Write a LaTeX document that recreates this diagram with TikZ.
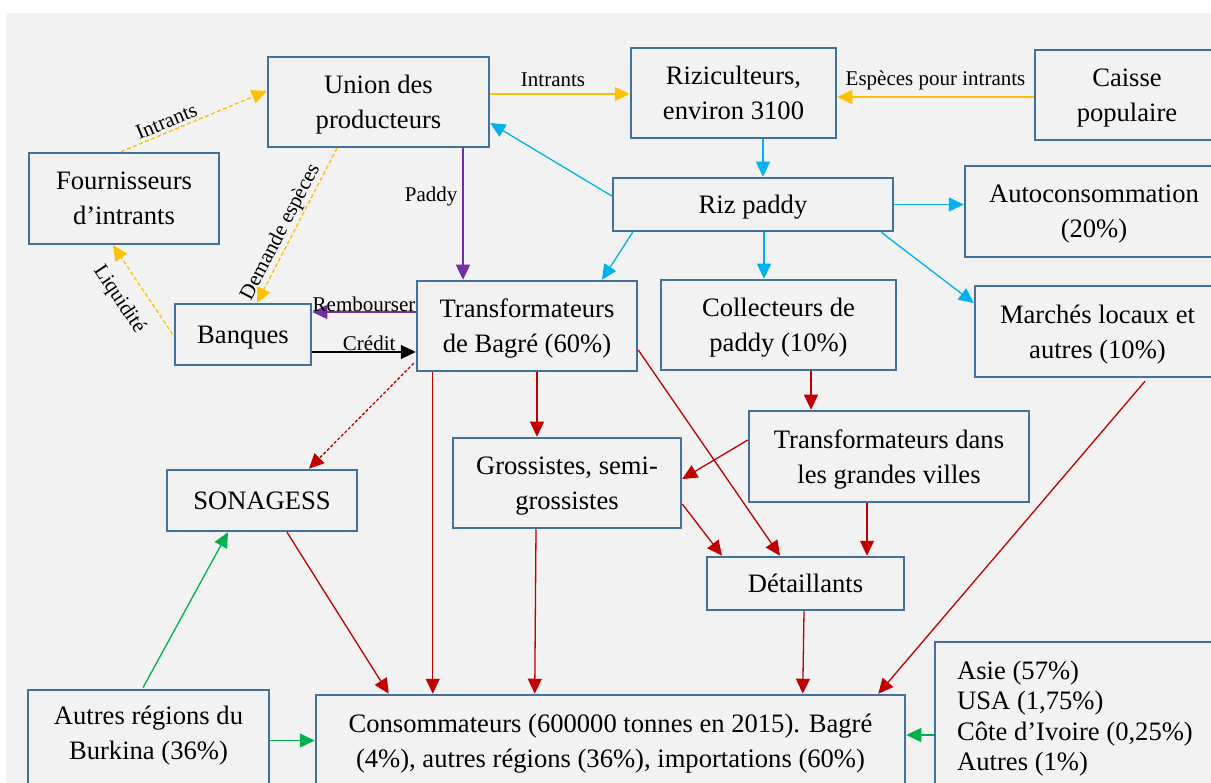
\documentclass[tikz,border=0pt]{standalone}
\usepackage{fontspec}
\setmainfont{Liberation Serif}
\usetikzlibrary{arrows.meta,calc}
\definecolor{bgc}{HTML}{F2F2F2}
\definecolor{boxc}{HTML}{41719C}
\definecolor{orng}{HTML}{FFC000}
\definecolor{cyn}{HTML}{00B0F0}
\definecolor{purp}{HTML}{7030A0}
\definecolor{redc}{HTML}{C00000}
\definecolor{grn}{HTML}{00B050}
\begin{document}
\begin{tikzpicture}[x=1pt,y=-1pt,
  box/.style={draw=boxc, line width=2.5pt, fill=bgc, align=center, inner sep=0pt,
    text depth=0pt, font=\fontsize{26.6}{35}\selectfont},
  boxtext/.style={align=center, inner sep=0pt, font=\fontsize{26.6}{35}\selectfont},
  conn/.style={line width=1.3pt, -{Triangle[length=15pt,width=14pt]}},
  orangedash/.style={conn, draw=orng, dash pattern=on 4pt off 2.5pt},
  orangeline/.style={conn, draw=orng},
  cyanline/.style={conn, draw=cyn},
  purpline/.style={conn, draw=purp},
  redline/.style={conn, draw=redc},
  reddash/.style={conn, draw=redc, dash pattern=on 3pt off 2pt},
  greenline/.style={conn, draw=grn},
  blackline/.style={conn, draw=black},
  lbl/.style={font=\fontsize{21}{24}\selectfont, inner sep=1pt, text=black}]
\useasboundingbox (0,0) rectangle (1211,783);
\clip (0,0) rectangle (1211,783);
\fill[white] (0,0) rectangle (1211,783);
\fill[bgc] (6,13) rectangle (1211,783);

% boxes
\node[box, minimum width=190pt, minimum height=91pt] (four) at (124,198.5) {Fournisseurs\\d’intrants};
\node[box, minimum width=221pt, minimum height=90pt] (union) at (378.5,102) {Union des\\producteurs};
\node[box, minimum width=205pt, minimum height=90pt] (rizi) at (733.5,93) {Riziculteurs,\\environ 3100};
\node[box, minimum width=184pt, minimum height=90pt] (caisse) at (1127,95) {Caisse\\populaire};
\node[box, minimum width=280pt, minimum height=53pt] (riz) at (753,204.5) {Riz paddy};
\node[box, minimum width=258pt, minimum height=91pt] (auto) at (1094,211.5) {Autoconsommation\\(20\%)};
\node[box, minimum width=136pt, minimum height=61pt] (banq) at (243,334.5) {Banques};
\node[box, minimum width=220pt, minimum height=90pt] (tbag) at (527,326) {Transformateurs\\de Bagré (60\%)};
\node[box, minimum width=235pt, minimum height=90pt] (coll) at (778.5,325) {Collecteurs de\\paddy (10\%)};
\node[box, minimum width=245pt, minimum height=91pt] (march) at (1097.5,331.5) {Marchés locaux et\\autres (10\%)};
\node[box, minimum width=280pt, minimum height=91pt] (tvil) at (889,456.5) {Transformateurs dans\\les grandes villes};
\node[box, minimum width=228pt, minimum height=90pt] (gros) at (567,483) {Grossistes, semi-\\grossistes};
\node[box, minimum width=197pt, minimum height=53pt] (det) at (805.5,583.5) {Détaillants};
\node[box, minimum width=190pt, minimum height=61pt] (sona) at (262,500.5) {SONAGESS};
\node[box, minimum width=241pt, minimum height=110pt] (autres) at (148.5,745) {};
\node[boxtext] (autrestxt) at (148.5,735.5) {Autres régions du\\Burkina (36\%)};
\node[box, minimum width=589pt, minimum height=91pt] (cons) at (610.5,740.5) {Consommateurs (600000 tonnes en 2015). Bagré\\(4\%), autres régions (36\%), importations (60\%)};
\node[box, minimum width=280pt, minimum height=148pt, align=left,
  font=\fontsize{26.6}{30.5}\selectfont] (imp) at (1075,716) {Asie (57\%)\\USA (1,75\%)\\Côte d’Ivoire (0,25\%)\\Autres (1\%)};

% orange connectors
\draw[orangedash] ($(four.north)+(-3,0)$) -- node[lbl, sloped, above=2pt, pos=.34] {Intrants} ($(union.west)+(0,-11)$);
\draw[orangedash] ($(union.south)+(-41.5,0)$) -- node[lbl, sloped, above, pos=.577] {Demande espèces} ($(banq.north)+(14,0)$);
\draw[orangedash] ($(banq.west)+(-1,0)$) -- node[lbl, sloped, below=14pt, pos=.549] {Liquidité} ($(four.south)+(-11,0)$);
\draw[orangeline] ($(union.east)+(0,-8)$) -- node[lbl, above=6pt, pos=.45] {Intrants} ($(rizi.west)+(0,1)$);
\draw[orangeline] ($(caisse.west)+(0,2)$) -- node[lbl, above=5pt] {Espèces pour intrants} ($(rizi.east)+(0,4)$);

% cyan connectors
\draw[cyanline] ($(rizi.south)+(29.5,0)$) -- ($(riz.north)+(10,0)$);
\draw[cyanline] ($(riz.west)+(0,-8.5)$) -- ($(union.east)+(0,21)$);
\draw[cyanline] (riz.east) -- ($(auto.west)+(0,-7)$);
\draw[cyanline] ($(riz.south west)+(21,0)$) -- ($(tbag.north)+(75,0)$);
\draw[cyanline] ($(riz.south)+(11,0)$) -- ($(coll.north)+(-14.5,0)$);
\draw[cyanline] ($(riz.south east)+(-13,0)$) -- ($(march.west)+(0,-28.5)$);

% purple and black
\draw[purpline] ($(union.south)+(84.5,0)$) -- node[lbl, left=4pt, pos=.37] {Paddy} ($(tbag.north)+(-64,0)$);
\draw[purpline] ($(tbag.west)+(0,-14)$) -- node[lbl, above=-1pt] {Rembourser} ($(banq.east)+(0,-22.5)$);
\draw[blackline] ($(banq.east)+(0,17.5)$) -- node[lbl, above, pos=.55] {Crédit} ($(tbag.west)+(0,26)$);

% red connectors
\draw[reddash] ($(tbag.south west)+(-2,-9)$) -- ($(sona.north)+(47,0)$);
\draw[redline] ($(tbag.south west)+(17,0)$) -- ($(cons.north west)+(118,0)$);
\draw[redline] ($(tbag.south)+(10,0)$) -- ($(gros.north)+(-30,0)$);
\draw[redline] ($(tbag.east)+(0,24)$) -- ($(det.north)+(-25.5,0)$);
\draw[redline] ($(coll.south)+(32.5,0)$) -- ($(tvil.north)+(-78,0)$);
\draw[redline] ($(tvil.west)+(0,-16.5)$) -- ($(gros.east)+(0,-4)$);
\draw[redline] ($(gros.east)+(0,21)$) -- ($(det.north)+(-83.5,0)$);
\draw[redline] ($(tvil.south)+(-22,0)$) -- ($(det.north)+(61.5,0)$);
\draw[redline] ($(gros.south)+(-31,0)$) -- ($(cons.north west)+(220,0)$);
\draw[redline] ($(det.south)+(-1.5,0)$) -- ($(cons.north west)+(488,0)$);
\draw[redline] ($(sona.south)+(25,0)$) -- ($(cons.north west)+(74,0)$);
\draw[redline] ($(march.south)+(47.5,3)$) -- ($(cons.north east)+(-28,0)$);

% green connectors
\draw[greenline] ($(autres.north)+(-5.5,-1)$) -- ($(sona.south)+(-34,0)$);
\draw[greenline] (autres.east |- cons.west) -- (cons.west);
\draw[greenline] ($(imp.west)+(0,19)$) -- ($(cons.east)+(0,-5.5)$);
\end{tikzpicture}
\end{document}
